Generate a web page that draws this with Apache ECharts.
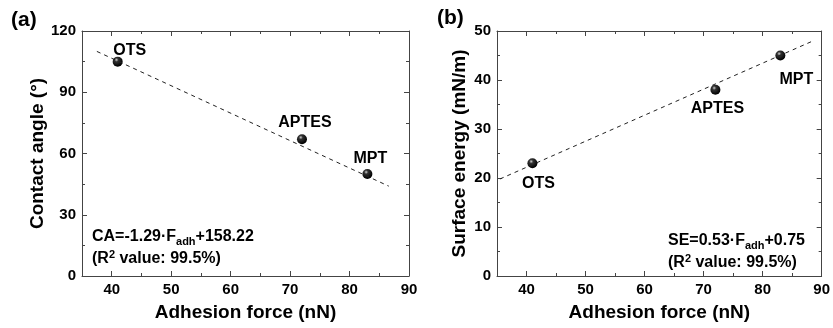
<!DOCTYPE html>
<html><head><meta charset="utf-8">
<script src="https://cdn.jsdelivr.net/npm/echarts@6/dist/echarts.min.js"></script>
<style>html,body{margin:0;padding:0;background:#fff}#c{width:833px;height:328px}</style>
</head><body><div id="c"></div>
<script>
// ---- data ----
const names = ['OTS', 'APTES', 'MPT'];
const adhesion = [41, 72, 83];
const contactAngle = [105, 67, 50];
const surfaceEnergy = [23, 38, 45];
const fitA = [[37.5, 110], [86.6, 44]];
const fitB = [[35.5, 19.8], [88.2, 47.8]];
const xMajor = [40, 50, 60, 70, 80, 90];
const xMinor = [45, 55, 65, 75, 85];
const labelOffA = [[12, -11], [3, -17], [3, -15]];
const labelOffB = [[6, 20], [2, 19], [16, 24]];

const FONT = '"Liberation Sans", Arial, sans-serif';
const AX = '#444';
const TXT = '#000';

const ball = {
  type: 'radial', x: 0.38, y: 0.32, r: 0.65,
  colorStops: [{offset: 0, color: '#cfcfcf'}, {offset: 0.3, color: '#333'}, {offset: 1, color: '#000'}]
};

function xAxes(gi) {
  const base = {gridIndex: gi, type: 'value', min: 35, max: 90, splitLine: {show: false}};
  return [
    Object.assign({}, base, {
      position: 'bottom',
      name: 'Adhesion force (nN)', nameLocation: 'middle', nameGap: 27,
      nameTextStyle: {fontFamily: FONT, fontWeight: 'bold', fontSize: 19, color: TXT},
      axisLine: {show: true, lineStyle: {color: AX, width: 1}},
      axisTick: {show: true, inside: true, length: 5, customValues: xMajor, lineStyle: {color: AX}},
      axisLabel: {show: true, customValues: xMajor, margin: 6, fontFamily: FONT, fontWeight: 'bold', fontSize: 15, color: TXT}
    }),
    Object.assign({}, base, {
      position: 'bottom',
      axisLine: {show: false},
      axisTick: {show: true, inside: true, length: 3, customValues: xMinor, lineStyle: {color: AX}},
      axisLabel: {show: false}
    }),
    Object.assign({}, base, {
      position: 'top',
      axisLine: {show: true, lineStyle: {color: AX, width: 1}},
      axisTick: {show: true, inside: true, length: 5, customValues: xMajor, lineStyle: {color: AX}},
      axisLabel: {show: false}
    }),
    Object.assign({}, base, {
      position: 'top',
      axisLine: {show: false},
      axisTick: {show: true, inside: true, length: 3, customValues: xMinor, lineStyle: {color: AX}},
      axisLabel: {show: false}
    })
  ];
}
function yAxes(gi, max, interval, name, gap) {
  const base = {gridIndex: gi, type: 'value', min: 0, max: max, interval: interval, splitLine: {show: false},
    minorTick: {show: true, splitNumber: 2, length: 3, lineStyle: {color: AX}},
    axisLine: {show: true, lineStyle: {color: AX, width: 1}},
    axisTick: {show: true, inside: true, length: 5, lineStyle: {color: AX}}};
  return [
    Object.assign({}, base, {
      position: 'left', name: name, nameLocation: 'middle', nameGap: gap,
      nameTextStyle: {fontFamily: FONT, fontWeight: 'bold', fontSize: 19, color: TXT},
      axisLabel: {show: true, margin: 6, fontFamily: FONT, fontWeight: 'bold', fontSize: 15, color: TXT}
    }),
    Object.assign({}, base, {position: 'right', axisLabel: {show: false}})
  ];
}

function pts(yvals, offs) {
  return adhesion.map((x, i) => ({
    value: [x, yvals[i]],
    label: {show: true, formatter: names[i], position: 'inside', offset: offs[i],
      fontFamily: FONT, fontWeight: 'bold', fontSize: 16, color: TXT, textBorderWidth: 0}
  }));
}

const rich = {
  t: {fontFamily: FONT, fontWeight: 'bold', fontSize: 16, color: TXT},
  sub: {fontFamily: FONT, fontWeight: 'bold', fontSize: 11, color: TXT, padding: [9, 0, 0, 0]},
  sup: {fontFamily: FONT, fontWeight: 'bold', fontSize: 11, color: TXT, padding: [0, 0, 9, 0]}
};

const option = {
  animation: false,
  backgroundColor: '#fff',
  title: [
    {text: '(a)', left: 6, top: 5, textStyle: {fontFamily: FONT, fontWeight: 'bold', fontSize: 21, color: TXT}},
    {text: '(b)', left: 432, top: 3, textStyle: {fontFamily: FONT, fontWeight: 'bold', fontSize: 21, color: TXT}},
    {text: '{t|CA=-1.29·F}{sub|adh}{t|+158.22}\n{t|(R}{sup|2}{t| value: 99.5%)}', left: 87, top: 221,
      textStyle: {rich: rich, lineHeight: 22}},
    {text: '{t|SE=0.53·F}{sub|adh}{t|+0.75}\n{t|(R}{sup|2}{t| value: 99.5%)}', left: 663, top: 225,
      textStyle: {rich: rich, lineHeight: 22}}
  ],
  grid: [
    {left: 82, top: 31, width: 327, height: 245},
    {left: 497, top: 31, width: 327, height: 245}
  ],
  xAxis: xAxes(0).concat(xAxes(1)),
  yAxis: yAxes(0, 120, 30, 'Contact angle (°)', 35).concat(yAxes(1, 50, 10, 'Surface energy (mN/m)', 28)),
  series: [
    {type: 'line', xAxisIndex: 0, yAxisIndex: 0, data: fitA, symbol: 'none',
      lineStyle: {color: '#222', width: 1, type: [4, 4]}},
    {type: 'scatter', xAxisIndex: 0, yAxisIndex: 0, data: pts(contactAngle, labelOffA), symbolSize: 10,
      itemStyle: {color: ball, opacity: 1}},
    {type: 'line', xAxisIndex: 4, yAxisIndex: 2, data: fitB, symbol: 'none',
      lineStyle: {color: '#222', width: 1, type: [4, 4]}},
    {type: 'scatter', xAxisIndex: 4, yAxisIndex: 2, data: pts(surfaceEnergy, labelOffB), symbolSize: 10,
      itemStyle: {color: ball, opacity: 1}}
  ]
};
const chart = echarts.init(document.getElementById('c'), null, {renderer: 'canvas'});
chart.setOption(option);
</script></body></html>
